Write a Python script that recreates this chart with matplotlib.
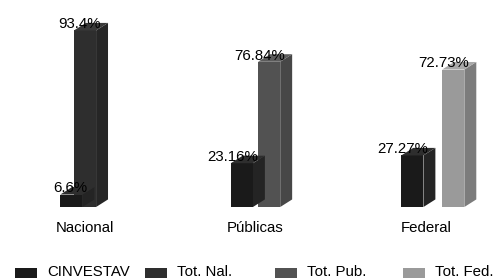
import matplotlib
matplotlib.use("Agg")
import matplotlib.pyplot as plt
from matplotlib.patches import Polygon, Rectangle

plt.rcParams['font.family'] = ['Liberation Sans', 'DejaVu Sans']

categories = ["Nacional", "Públicas", "Federal"]
series_names = ["CINVESTAV", "Tot. Nal.", "Tot. Pub.", "Tot. Fed."]
cinvestav = [6.6, 23.16, 27.27]
tot_nal = [93.4, None, None]
tot_pub = [None, 76.84, None]
tot_fed = [None, None, 72.73]
labels = {
    "CINVESTAV": ["6.6%", "23.16%", "27.27%"],
    "Tot. Nal.": ["93.4%", None, None],
    "Tot. Pub.": [None, "76.84%", None],
    "Tot. Fed.": [None, None, "72.73%"],
}

series = [cinvestav, tot_nal, tot_pub, tot_fed]
# front, side, top colours for each series
colours = [
    ("#1a1a1a", "#242424", "#2e2e2e"),
    ("#2e2e2e", "#262626", "#3a3a3a"),
    ("#525252", "#474747", "#5c5c5c"),
    ("#9a9a9a", "#7c7c7c", "#a8a8a8"),
]

W, H = 495, 278
fig = plt.figure(figsize=(W / 100, H / 100), dpi=100)
fig.patch.set_facecolor("white")

base_px = 207
scale = 1.89  # px per percent
ax = fig.add_axes([0, (H - base_px) / H, 1, base_px / H])
ax.set_xlim(-85 / 170.5, (W - 85) / 170.5)
ax.set_ylim(0, base_px / scale)
ax.axis("off")

w = 0.13    # front face width
dx = 0.07   # depth in x
dy = 4.0    # depth in y
slot = 0.08
fs = 10.8


def bar3d(x, v, cols):
    front, side, top = cols
    l, r = x - w / 2, x + w / 2
    ax.add_patch(Rectangle((l, 0), w, v, facecolor=front, edgecolor="none",
                           clip_on=False))
    ax.add_patch(Polygon([(r, 0), (r + dx, dy), (r + dx, v + dy), (r, v)],
                         closed=True, facecolor=side, edgecolor="none",
                         clip_on=False))
    ax.add_patch(Polygon([(l, v), (r, v), (r + dx, v + dy), (l + dx, v + dy)],
                         closed=True, facecolor=top, edgecolor="none",
                         clip_on=False))


# totals behind, CINVESTAV in front
order = [1, 2, 3, 0]
for si in order:
    vals = series[si]
    name = series_names[si]
    for ci, v in enumerate(vals):
        if v is None:
            continue
        x = ci + (si - 1) * slot
        bar3d(x, v, colours[si])
        ax.text(x + w / 2 + dx * 0.4, v + dy * 0.8, labels[name][ci],
                ha="right", va="center", fontsize=fs, color="black",
                zorder=5)

for ci, cat in enumerate(categories):
    ax.text(ci, -11, cat, ha="center", va="center", fontsize=fs,
            color="black", clip_on=False)

# legend
leg_x = [15, 145, 275, 403]
for i, name in enumerate(series_names):
    fig.patches.append(Rectangle((leg_x[i] / W, 0), 22 / W, 10 / H,
                                 transform=fig.transFigure,
                                 facecolor=colours[i][0], edgecolor="none"))
    fig.text((leg_x[i] + 32) / W, 1 - 272 / H, name, ha="left", va="center",
             fontsize=fs, color="black")

fig.savefig("out.png", dpi=100)
